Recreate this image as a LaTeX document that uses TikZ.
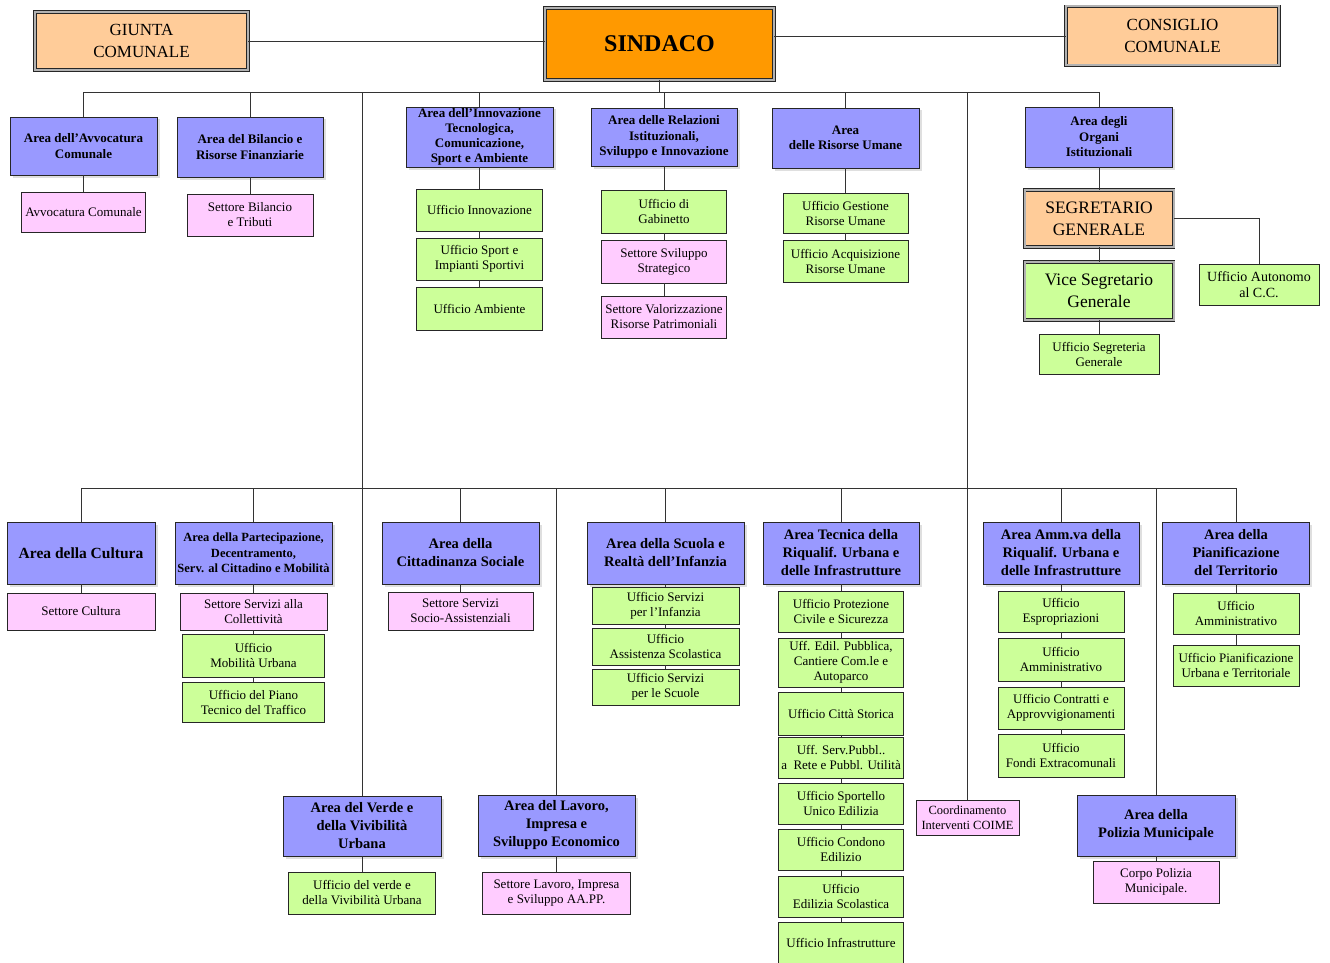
\documentclass[tikz,border=0pt]{standalone}
\usepackage{fontspec}
\setmainfont{Liberation Serif}
\usetikzlibrary{shadows}

\definecolor{peach}{RGB}{255,204,153}
\definecolor{sindorange}{RGB}{255,153,0}
\definecolor{areablue}{RGB}{153,153,255}
\definecolor{uffgreen}{RGB}{204,255,153}
\definecolor{setpink}{RGB}{255,204,255}

\begin{document}
\begin{tikzpicture}[x=1pt, y=-1pt, filo/.style={draw=black!80, line width=0.8pt},
                    every edge/.style={filo}, every node/.style={align=center, inner sep=0.5pt},
                    wh/.style 2 args={minimum width=#1, minimum height=#2},
                    capo/.style={draw=black!85, line width=0.9pt, double=gray!60, double distance=2pt,
                                 fill=peach, font=\fontsize{17}{22}\selectfont},
                    area/.style={draw=black!85, line width=0.8pt, fill=areablue,
                                 font=\bfseries\fontsize{13}{15.5}\selectfont,
                                 drop shadow={shadow xshift=2.5pt, shadow yshift=-2.5pt, fill=black!25}},
                    areabig/.style={area, font=\bfseries\fontsize{14.5}{18}\selectfont},
                    uff/.style={draw=black!85, line width=0.8pt, fill=uffgreen, font=\fontsize{13}{15}\selectfont},
                    sett/.style={uff, fill=setpink}]
\useasboundingbox (0,0) rectangle (1330,963);

% vertici
\node[capo, wh={213}{58}] (giunta) at (141.5,41) {GIUNTA\\COMUNALE};
\node[capo, fill=sindorange, wh={229}{72}, font=\bfseries\fontsize{24}{28}\selectfont] (sindaco) at (659.5,44) {SINDACO};
\node[capo, wh={213}{59}] (consiglio) at (1172.5,36) {CONSIGLIO\\COMUNALE};

\coordinate (topbus) at (0,92);
\coordinate (lowbus) at (0,488);

% aree in alto
\node[area, wh={147}{58}] (avvocatura) at (83.5,146) {Area dell'Avvocatura\\Comunale};
\node[area, wh={146}{60}] (bilancio) at (250,147) {Area del Bilancio e\\Risorse Finanziarie};
\node[area, wh={147}{60}, font=\bfseries\fontsize{13}{15}\selectfont] (innovazione) at (479.5,137) {Area dell'Innovazione\\Tecnologica,\\Comunicazione,\\Sport e Ambiente};
\node[area, wh={146}{58}] (relazioni) at (664,137) {Area delle Relazioni\\Istituzionali,\\Sviluppo e Innovazione};
\node[area, wh={147}{60}] (risorse) at (845.5,138) {Area\\delle Risorse Umane};
\node[area, wh={147}{60}] (organi) at (1099,137) {Area degli\\Organi\\Istituzionali};

\node[sett, wh={124}{40}] (settavv) at (83.5,212) {Avvocatura Comunale};
\node[sett, wh={126}{42}] (settbil) at (250,215) {Settore Bilancio\\e Tributi};
\node[uff, wh={126}{42}] (uffinn) at (479.5,210) {Ufficio Innovazione};
\node[uff, wh={126}{42}] (uffsport) at (479.5,259) {Ufficio Sport e\\Impianti Sportivi};
\node[uff, wh={126}{43}] (uffamb) at (479.5,308.5) {Ufficio Ambiente};
\node[uff, wh={125}{43}] (uffgab) at (664,211.5) {Ufficio di\\Gabinetto};
\node[sett, wh={125}{43}] (settsvil) at (664,261.5) {Settore Sviluppo\\Strategico};
\node[sett, wh={125}{42}] (settval) at (664,317) {Settore Valorizzazione\\Risorse Patrimoniali};
\node[uff, wh={125}{40}] (uffgest) at (845.5,213) {Ufficio Gestione\\Risorse Umane};
\node[uff, wh={125}{42}] (uffacq) at (845.5,261) {Ufficio Acquisizione\\Risorse Umane};
\node[capo, wh={149}{57}, font=\fontsize{17.5}{22}\selectfont] (segretario) at (1099,218.5) {SEGRETARIO\\GENERALE};
\node[capo, fill=uffgreen, wh={149}{58}, font=\fontsize{17.5}{22}\selectfont] (vice) at (1099,291) {Vice Segretario\\Generale};
\node[uff, wh={120}{40}] (uffsegr) at (1099,354) {Ufficio Segreteria\\Generale};
\node[uff, wh={120}{41}, font=\fontsize{14}{16}\selectfont] (uffauto) at (1259,284.5) {Ufficio Autonomo\\al C.C.};

% aree in basso
\node[areabig, wh={148}{62}, font=\bfseries\fontsize{15.5}{18}\selectfont] (cultura) at (81,553) {Area della Cultura};
\node[area, wh={157}{62}, font=\bfseries\fontsize{12.5}{15.5}\selectfont] (partecip) at (253.5,553) {Area della Partecipazione,\\Decentramento,\\Serv. al Cittadino e Mobilità};
\node[areabig, wh={157}{62}] (cittad) at (460.5,553) {Area della\\Cittadinanza Sociale};
\node[areabig, wh={157}{62}] (scuola) at (665.5,553) {Area della Scuola e\\Realtà dell'Infanzia};
\node[areabig, wh={156}{62}] (tecnica) at (841,553) {Area Tecnica della\\Riqualif. Urbana e\\delle Infrastrutture};
\node[areabig, wh={156}{62}] (ammva) at (1061,553) {Area Amm.va della\\Riqualif. Urbana e\\delle Infrastrutture};
\node[areabig, wh={147}{62}] (pianif) at (1236,553) {Area della\\Pianificazione\\del Territorio};

\node[sett, wh={148}{37}] (settcult) at (81,611.5) {Settore Cultura};
\node[sett, wh={147}{37}] (settcoll) at (253.5,611.5) {Settore Servizi alla\\Collettività};
\node[uff, wh={142}{43}] (uffmob) at (253.5,655.5) {Ufficio\\Mobilità Urbana};
\node[uff, wh={142}{40}] (uffpiano) at (253.5,702) {Ufficio del Piano\\Tecnico del Traffico};
\node[sett, wh={145}{38}] (settsocio) at (460.5,611) {Settore Servizi\\Socio-Assistenziali};
\node[uff, wh={147}{37}] (uffinf) at (665.5,605.5) {Ufficio Servizi\\per l'Infanzia};
\node[uff, wh={147}{37}] (uffassist) at (665.5,646.5) {Ufficio\\Assistenza Scolastica};
\node[uff, wh={147}{36}] (uffscuole) at (665.5,687) {Ufficio Servizi\\per le Scuole};

\node[uff, wh={125}{41}] (uffprot) at (841,611.5) {Ufficio Protezione\\Civile e Sicurezza};
\node[uff, wh={125}{49}] (uffedil) at (841,662.5) {Uff. Edil. Pubblica,\\Cantiere Com.le e\\Autoparco};
\node[uff, wh={125}{43}] (uffstor) at (841,713.5) {Ufficio Città Storica};
\node[uff, wh={125}{41}] (uffserv) at (841,757.5) {Uff. Serv.Pubbl..\\a\ \ Rete e Pubbl. Utilità};
\node[uff, wh={125}{41}] (uffsportello) at (841,803.5) {Ufficio Sportello\\Unico Edilizia};
\node[uff, wh={125}{41}] (uffcond) at (841,849.5) {Ufficio Condono\\Edilizio};
\node[uff, wh={125}{41}] (uffedsc) at (841,896.5) {Ufficio\\Edilizia Scolastica};
\node[uff, wh={125}{41}] (uffinfra) at (841,942.5) {Ufficio Infrastrutture};

\node[uff, wh={126}{41}] (uffespr) at (1061,611.5) {Ufficio\\Espropriazioni};
\node[uff, wh={126}{43}] (uffamm) at (1061,659.5) {Ufficio\\Amministrativo};
\node[uff, wh={126}{42}] (uffcontr) at (1061,708) {Ufficio Contratti e\\Approvvigionamenti};
\node[uff, wh={126}{43}] (ufffondi) at (1061,755.5) {Ufficio\\Fondi Extracomunali};
\node[uff, wh={126}{41}] (uffammpian) at (1236,613.5) {Ufficio\\Amministrativo};
\node[uff, wh={126}{41}] (uffpianurb) at (1236,665.5) {Ufficio Pianificazione\\Urbana e Territoriale};

\node[sett, wh={103}{35}, font=\fontsize{12.5}{15}\selectfont] (coime) at (967.5,817.5) {Coordinamento\\Interventi COIME};
\node[areabig, wh={158}{60}] (verde) at (362,826) {Area del Verde e\\della Vivibilità\\Urbana};
\node[uff, wh={147}{42}] (uffverde) at (362,893) {Ufficio del verde e\\della Vivibilità Urbana};
\node[areabig, wh={157}{61}] (lavoro) at (556.5,825.5) {Area del Lavoro,\\Impresa e\\Sviluppo Economico};
\node[sett, wh={148}{42}] (settlav) at (556.5,893) {Settore Lavoro, Impresa\\e Sviluppo AA.PP.};
\node[areabig, wh={158}{61}] (polizia) at (1156,825.5) {Area della\\Polizia Municipale};
\node[sett, wh={126}{42}] (corpo) at (1156,882) {Corpo Polizia\\Municipale.};

% collegamenti
\path (giunta) edge (giunta -| sindaco.west)
      (consiglio) edge (consiglio -| sindaco.east)
      (sindaco) edge (sindaco |- topbus);
\draw[filo] (avvocatura |- topbus) -- (organi |- topbus);
\draw[filo] (cultura |- lowbus) -- (pianif |- lowbus);
\foreach \n in {avvocatura,bilancio,innovazione,relazioni,risorse,organi,verde,coime}
  \path (\n) edge (\n |- topbus);
\foreach \n in {cultura,partecip,cittad,scuola,tecnica,ammva,pianif,lavoro,polizia}
  \path (\n) edge (\n |- lowbus);
\foreach \a/\b in {avvocatura/settavv, bilancio/settbil, innovazione/uffinn, uffinn/uffsport,
                   uffsport/uffamb, relazioni/uffgab, uffgab/settsvil, settsvil/settval,
                   risorse/uffgest, uffgest/uffacq, organi/segretario, segretario/vice, vice/uffsegr,
                   cultura/settcult, partecip/settcoll, settcoll/uffmob, uffmob/uffpiano,
                   cittad/settsocio, scuola/uffinf, uffinf/uffassist, uffassist/uffscuole,
                   tecnica/uffprot, uffprot/uffedil, uffedil/uffstor, uffstor/uffserv,
                   uffserv/uffsportello, uffsportello/uffcond, uffcond/uffedsc, uffedsc/uffinfra,
                   ammva/uffespr, uffespr/uffamm, uffamm/uffcontr, uffcontr/ufffondi,
                   pianif/uffammpian, uffammpian/uffpianurb, verde/uffverde, lavoro/settlav, polizia/corpo}
  \path (\a) edge (\b);
\draw[filo] (segretario) -| (uffauto);
\end{tikzpicture}
\end{document}
